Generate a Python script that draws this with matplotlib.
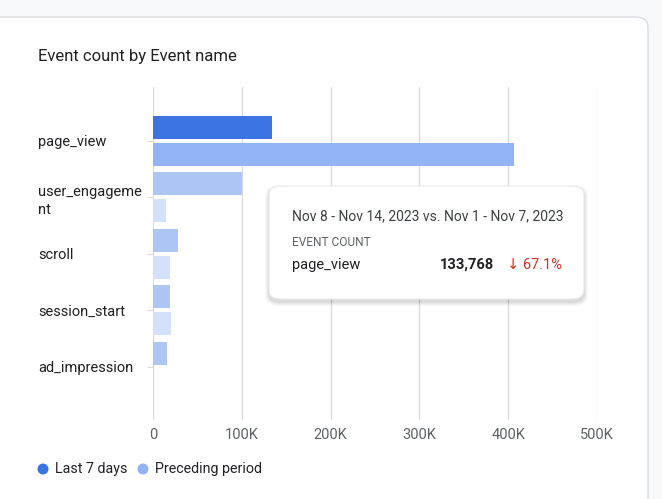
import numpy as np
import matplotlib
matplotlib.use('Agg')
import matplotlib.pyplot as plt
from matplotlib.patches import FancyBboxPatch, Ellipse
from matplotlib.ticker import FuncFormatter

plt.rcParams['font.family'] = ['Roboto', 'DejaVu Sans']

# data
events = ['page_view', 'user_engageme\nnt', 'scroll', 'session_start', 'ad_impression']
last_7_days = [133768, 100000, 28000, 19000, 16000]
preceding = [406590, 15000, 19000, 20000, 0]
x_ticks = [0, 100000, 200000, 300000, 400000, 500000]
highlight = 0  # hovered row

# colours
dark_last = '#3b74e0'
dark_prev = '#93b4f4'
dim_last = '#adc6f4'
dim_prev = '#d4e1fa'
grid_col = '#dadce0'
text_col = '#202124'
sub_col = '#5f6368'

fig = plt.figure(figsize=(6.62, 4.99), dpi=100)
fig.patch.set_facecolor('#f8f9fa')
W, H = 662, 499

# card background
card = FancyBboxPatch((-20 / W, -40 / H), 668 / W, 522 / H,
                      boxstyle='round,pad=0,rounding_size=0.02',
                      transform=fig.transFigure, facecolor='white',
                      edgecolor='#dadce0', linewidth=1, zorder=-5)
fig.patches.append(card)

ax = fig.add_axes([153 / W, 1 - 420 / H, (597 - 153) / W, (420 - 87) / H])
ax.set_facecolor('none')
ax.set_zorder(1)

y = np.arange(len(events))
h = 0.407
off = 0.239
for i in range(len(events)):
    c1 = dark_last if i == highlight else dim_last
    c2 = dark_prev if i == highlight else dim_prev
    ax.barh(y[i] - off, last_7_days[i], height=h, color=c1, zorder=3)
    ax.barh(y[i] + off, preceding[i], height=h, color=c2, zorder=3)

ax.set_xlim(0, 500000)
ax.set_ylim(4.94, -0.956)
ax.set_xticks(x_ticks)
ax.xaxis.set_major_formatter(FuncFormatter(lambda v, p: '0' if v == 0 else f'{int(v / 1000)}K'))
ax.grid(axis='x', color=grid_col, linewidth=1, zorder=0)
for s in ax.spines.values():
    s.set_visible(False)
ax.tick_params(axis='x', length=0, pad=6, labelsize=10.5, labelcolor=sub_col)

ax.set_yticks(y)
ax.set_yticklabels(events)
ax.tick_params(axis='y', length=4.3, color=grid_col, pad=78.5, labelsize=10.5, labelcolor=text_col)
for lbl in ax.get_yticklabels():
    lbl.set_ha('left')
    lbl.set_linespacing(1.35)

# title
fig.text(38 / W, 1 - 57 / H, 'Event count by Event name', fontsize=12,
         color=text_col, va='center', ha='left')

# legend
for cx, col, txt in [(43, dark_last, 'Last 7 days'), (143, dark_prev, 'Preceding period')]:
    fig.patches.append(Ellipse((cx / W, 1 - 469 / H), 11 / W, 11 / H, transform=fig.transFigure,
                               facecolor=col, edgecolor='none'))
    fig.text((cx + 12) / W, 1 - 469 / H, txt, fontsize=10.3, color=text_col,
             va='center', ha='left')

# tooltip with soft shadow
for k, a in enumerate([0.025, 0.03, 0.04, 0.05]):
    g = 4 - k
    fig.patches.append(FancyBboxPatch(((269 - g) / W, (1 - (302 + g) / H)), (315 + 2 * g) / W, (113 + 2 * g) / H,
                                      boxstyle='round,pad=0,rounding_size=0.02',
                                      transform=fig.transFigure, facecolor='#000000', alpha=a,
                                      edgecolor='none', zorder=9))
tip = FancyBboxPatch((269 / W, 1 - 299 / H), 315 / W, 113 / H,
                     boxstyle='round,pad=0,rounding_size=0.018',
                     transform=fig.transFigure, facecolor='white',
                     edgecolor='#e8eaed', linewidth=0.8, zorder=10)
fig.patches.append(tip)
fig.text(292 / W, 1 - 216 / H, 'Nov 8 - Nov 14, 2023 vs. Nov 1 - Nov 7, 2023',
         fontsize=10, color='#3c4043', va='center', ha='left', zorder=11)
fig.text(292 / W, 1 - 242 / H, 'EVENT COUNT', fontsize=8.6, color=sub_col,
         va='center', ha='left', zorder=11)
fig.text(292 / W, 1 - 265 / H, events[highlight], fontsize=10.5, color=text_col,
         va='center', ha='left', zorder=11)
fig.text(494 / W, 1 - 265 / H, f'{last_7_days[highlight]:,}', fontsize=10.5,
         fontweight='bold', color=text_col, va='center', ha='right', zorder=11)
change = (last_7_days[highlight] - preceding[highlight]) / preceding[highlight] * 100
fig.text(562 / W, 1 - 265 / H, f'\u2193 {abs(change):.1f}%', fontsize=10.5,
         color='#d93025', va='center', ha='right', zorder=11)

fig.savefig('out.png', dpi=100, facecolor=fig.get_facecolor())
